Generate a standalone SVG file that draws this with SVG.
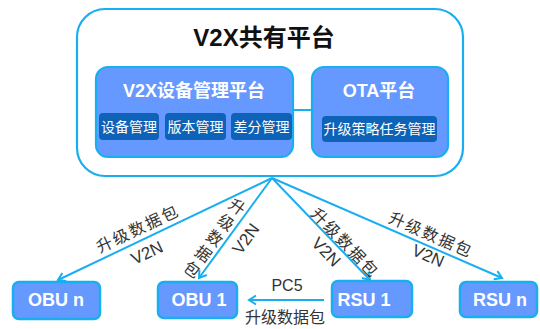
<svg xmlns="http://www.w3.org/2000/svg" width="540" height="329" viewBox="0 0 540 329">
<defs>
<style>
.ln{fill:none;stroke:#19AEEF;stroke-width:2}
.outer{fill:#fff;stroke:#19AEEF;stroke-width:2.2}
.inner{fill:#6699FF;stroke:#19AEEF;stroke-width:2.2}
.sub{fill:#0E62B8}
.node{fill:#6699FF;stroke:#19AEEF;stroke-width:2.5}
.t{font-family:"Liberation Sans","Noto Sans CJK SC",sans-serif}
.title{font-size:24px;font-weight:bold;fill:#111;text-anchor:middle}
.ititle{font-size:18px;font-weight:bold;fill:#fff;text-anchor:middle}
.subt{font-size:14px;fill:#fff;text-anchor:middle;dominant-baseline:central}
.nodet{font-size:18px;font-weight:bold;fill:#fff;text-anchor:middle}
.lbl{font-size:16px;fill:#333;text-anchor:middle;dominant-baseline:central}
.sp{letter-spacing:2px}
</style>
<marker id="arr" viewBox="-9 -6 11 12" refX="0" refY="0" markerWidth="11" markerHeight="12" markerUnits="userSpaceOnUse" orient="auto">
<path d="M-7,-4.5 L0,0 L-7,4.5" fill="none" stroke="#19AEEF" stroke-width="2"/>
</marker>
</defs>

<g id="platform">
<rect class="outer" x="77" y="9" width="386" height="167" rx="28"/>
<text class="t title" x="264" y="46">V2X共有平台</text>
</g>

<g id="device-platform">
<rect class="inner" x="96" y="67" width="197" height="90" rx="12"/>
<text class="t ititle" x="194" y="97">V2X设备管理平台</text>
<rect class="sub" x="99" y="113" width="60" height="27" rx="4"/>
<text class="t subt" x="129" y="127">设备管理</text>
<rect class="sub" x="165" y="113" width="61" height="27" rx="4"/>
<text class="t subt" x="195.5" y="127">版本管理</text>
<rect class="sub" x="231" y="113" width="61" height="27" rx="4"/>
<text class="t subt" x="261.5" y="127">差分管理</text>
</g>

<g id="ota-platform">
<rect class="inner" x="312" y="67" width="136" height="90" rx="12"/>
<text class="t ititle" x="379" y="97">OTA平台</text>
<rect class="sub" x="322" y="116" width="115" height="26" rx="4"/>
<text class="t subt" x="379.5" y="129">升级策略任务管理</text>
</g>

<g id="obu-n">
<rect class="node" x="13" y="282" width="87" height="37" rx="6"/>
<text class="t nodet" x="56" y="306">OBU n</text>
</g>
<g id="obu-1">
<rect class="node" x="158" y="282" width="79" height="36" rx="6"/>
<text class="t nodet" x="199" y="306">OBU 1</text>
</g>
<g id="rsu-1">
<rect class="node" x="332" y="281" width="80" height="36" rx="6"/>
<text class="t nodet" x="364" y="306">RSU 1</text>
</g>
<g id="rsu-n">
<rect class="node" x="460" y="282" width="77" height="35" rx="6"/>
<text class="t nodet" x="500" y="306">RSU n</text>
</g>

<g id="connectors">
<path class="ln" d="M293,110 L312,110"/>
<path class="ln" d="M272,178 L58,280" marker-end="url(#arr)"/>
<path class="ln" d="M272,178 L199,278" marker-end="url(#arr)"/>
<path class="ln" d="M272,178 L370,280" marker-end="url(#arr)"/>
<path class="ln" d="M272,178 L502,278" marker-end="url(#arr)"/>
<path class="ln" d="M324,300 L249,300" marker-end="url(#arr)"/>

<text class="t lbl sp" x="138" y="229" transform="rotate(-25.5 138 229)">升级数据包</text>
<text class="t lbl" x="147" y="253" transform="rotate(-25.5 147 253)" style="font-size:17px">V2N</text>

<text class="t lbl" x="237" y="207" transform="rotate(36 237 207)">升</text>
<text class="t lbl" x="225.7" y="222.7" transform="rotate(36 225.7 222.7)">级</text>
<text class="t lbl" x="214.4" y="238.4" transform="rotate(36 214.4 238.4)">数</text>
<text class="t lbl" x="203.1" y="254.1" transform="rotate(36 203.1 254.1)">据</text>
<text class="t lbl" x="191.8" y="269.8" transform="rotate(36 191.8 269.8)">包</text>
<text class="t lbl" x="246" y="239" transform="rotate(-54 246 239)" style="font-size:17px">V2N</text>

<text class="t lbl sp" x="345" y="243" transform="rotate(46 345 243)">升级数据包</text>
<text class="t lbl" x="326" y="252" transform="rotate(46 326 252)" style="font-size:17px">V2N</text>

<text class="t lbl sp" x="431" y="235" transform="rotate(23.5 431 235)">升级数据包</text>
<text class="t lbl" x="428" y="256" transform="rotate(23.5 428 256)" style="font-size:17px">V2N</text>

<text class="t" x="287" y="291" style="font-size:16px;fill:#333;text-anchor:middle">PC5</text>
<text class="t" x="285" y="323" style="font-size:16px;fill:#333;text-anchor:middle">升级数据包</text>
</g>
</svg>
